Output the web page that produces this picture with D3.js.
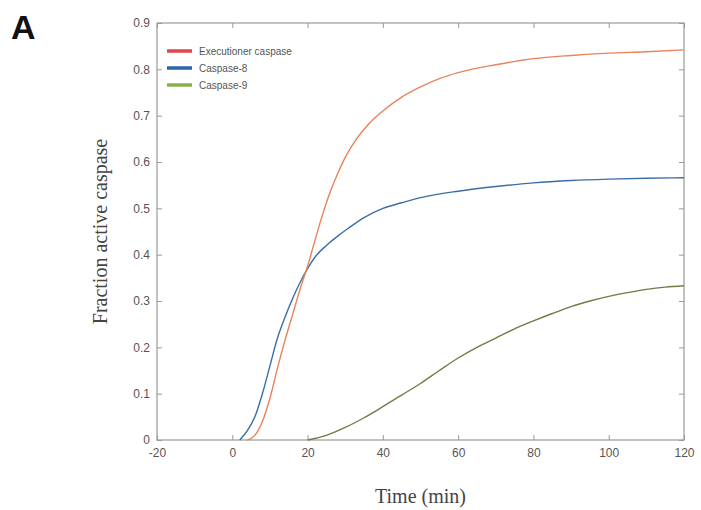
<!DOCTYPE html>
<html><head><meta charset="utf-8">
<script src="https://cdn.jsdelivr.net/npm/d3@7"></script>
<style>body{margin:0;background:#fff;}svg{display:block;}</style>
</head><body>
<script>
const seriesNames = ["Executioner caspase", "Caspase-8", "Caspase-9"];
const legendColors = ["#e0464a", "#2a64ad", "#86b04c"];
const lineColors = ["#e8825a", "#3a6ea6", "#6f7d45"];
const xTicks = [-20, 0, 20, 40, 60, 80, 100, 120];
const yTicks = [0, 0.1, 0.2, 0.3, 0.4, 0.5, 0.6, 0.7, 0.8, 0.9];

const execT = [4, 6, 8, 10, 12, 14, 16, 18, 20, 22, 24, 26, 28, 30, 33, 36, 40, 45, 50, 55, 60, 70, 80, 90, 100, 110, 120];
const execV = [0, 0.01, 0.04, 0.09, 0.155, 0.215, 0.27, 0.325, 0.375, 0.432, 0.487, 0.535, 0.575, 0.61, 0.65, 0.68, 0.71, 0.74, 0.762, 0.78, 0.793, 0.81, 0.823, 0.83, 0.835, 0.838, 0.842];
const c8T = [2, 4, 6, 8, 10, 12, 14, 16, 18, 20, 22, 25, 28, 31, 35, 40, 45, 50, 60, 70, 80, 90, 100, 110, 120];
const c8V = [0, 0.02, 0.05, 0.1, 0.16, 0.22, 0.265, 0.305, 0.34, 0.37, 0.395, 0.42, 0.44, 0.458, 0.48, 0.5, 0.512, 0.523, 0.537, 0.547, 0.555, 0.56, 0.563, 0.565, 0.566];
const c9T = [20, 25, 30, 35, 40, 45, 50, 55, 60, 65, 70, 75, 80, 85, 90, 95, 100, 105, 110, 115, 120];
const c9V = [0, 0.01, 0.027, 0.048, 0.072, 0.097, 0.122, 0.15, 0.177, 0.2, 0.22, 0.24, 0.257, 0.273, 0.288, 0.3, 0.31, 0.318, 0.325, 0.33, 0.333];

const W = 701, H = 510;
const m = {left: 157, right: 684, top: 23, bottom: 440};
const svg = d3.select("body").append("svg").attr("width", W).attr("height", H);

const x = d3.scaleLinear().domain([-20, 120]).range([m.left, m.right]);
const y = d3.scaleLinear().domain([0, 0.9]).range([m.bottom, m.top]);

const axisColor = "#9a9a9a";
const tickFont = "'Liberation Sans', Arial, sans-serif";

svg.append("rect").attr("x", m.left).attr("y", m.top)
  .attr("width", m.right - m.left).attr("height", m.bottom - m.top)
  .attr("fill", "none").attr("stroke", axisColor).attr("stroke-width", 1.2);

function styleAxis(g) {
  g.select(".domain").remove();
  g.selectAll(".tick line").attr("stroke", axisColor);
  g.selectAll(".tick text").attr("fill", "#555").style("font-family", tickFont).style("font-size", "12px");
}
svg.append("g").attr("transform", `translate(0,${m.bottom})`)
  .call(d3.axisBottom(x).tickValues(xTicks).tickSize(-5).tickPadding(8).tickFormat(d => String(d)))
  .call(styleAxis);
svg.append("g").attr("transform", `translate(0,${m.top})`)
  .call(d3.axisTop(x).tickValues(xTicks).tickSize(-5).tickFormat(""))
  .call(styleAxis);
svg.append("g").attr("transform", `translate(${m.left},0)`)
  .call(d3.axisLeft(y).tickValues(yTicks).tickSize(-5).tickPadding(7).tickFormat(d => d === 0 ? "0" : d3.format(".1f")(d)))
  .call(styleAxis);
svg.append("g").attr("transform", `translate(${m.right},0)`)
  .call(d3.axisRight(y).tickValues(yTicks).tickSize(-5).tickFormat(""))
  .call(styleAxis);

const line = d3.line().x(d => x(d[0])).y(d => y(d[1])).curve(d3.curveMonotoneX);
const series = [d3.zip(execT, execV), d3.zip(c8T, c8V), d3.zip(c9T, c9V)];
[2, 1, 0].forEach(i => {
  svg.append("path").datum(series[i]).attr("d", line)
    .attr("fill", "none").attr("stroke", lineColors[i]).attr("stroke-width", 1.4);
});

const lg = svg.append("g");
seriesNames.forEach((n, i) => {
  const yy = 51 + i * 17;
  lg.append("line").attr("x1", 167).attr("x2", 192).attr("y1", yy).attr("y2", yy)
    .attr("stroke", legendColors[i]).attr("stroke-width", 3.5);
  lg.append("text").attr("x", 199).attr("y", yy + 3.5).text(n)
    .attr("fill", "#555").style("font-family", tickFont).style("font-size", "10px");
});

svg.append("text").attr("x", (m.left + m.right) / 2).attr("y", 503)
  .attr("text-anchor", "middle").text("Time (min)")
  .attr("fill", "#444").style("font-family", "'Liberation Serif', 'Times New Roman', serif").style("font-size", "20px");
svg.append("text").attr("transform", `translate(107,${(m.top + m.bottom) / 2}) rotate(-90)`)
  .attr("text-anchor", "middle").text("Fraction active caspase")
  .attr("fill", "#444").style("font-family", "'Liberation Serif', 'Times New Roman', serif").style("font-size", "20px");

svg.append("text").attr("x", 11).attr("y", 39).text("A")
  .attr("fill", "#111").style("font-family", "'Liberation Sans', Arial, sans-serif").style("font-weight", "bold").style("font-size", "34px");
</script>
</body></html>
